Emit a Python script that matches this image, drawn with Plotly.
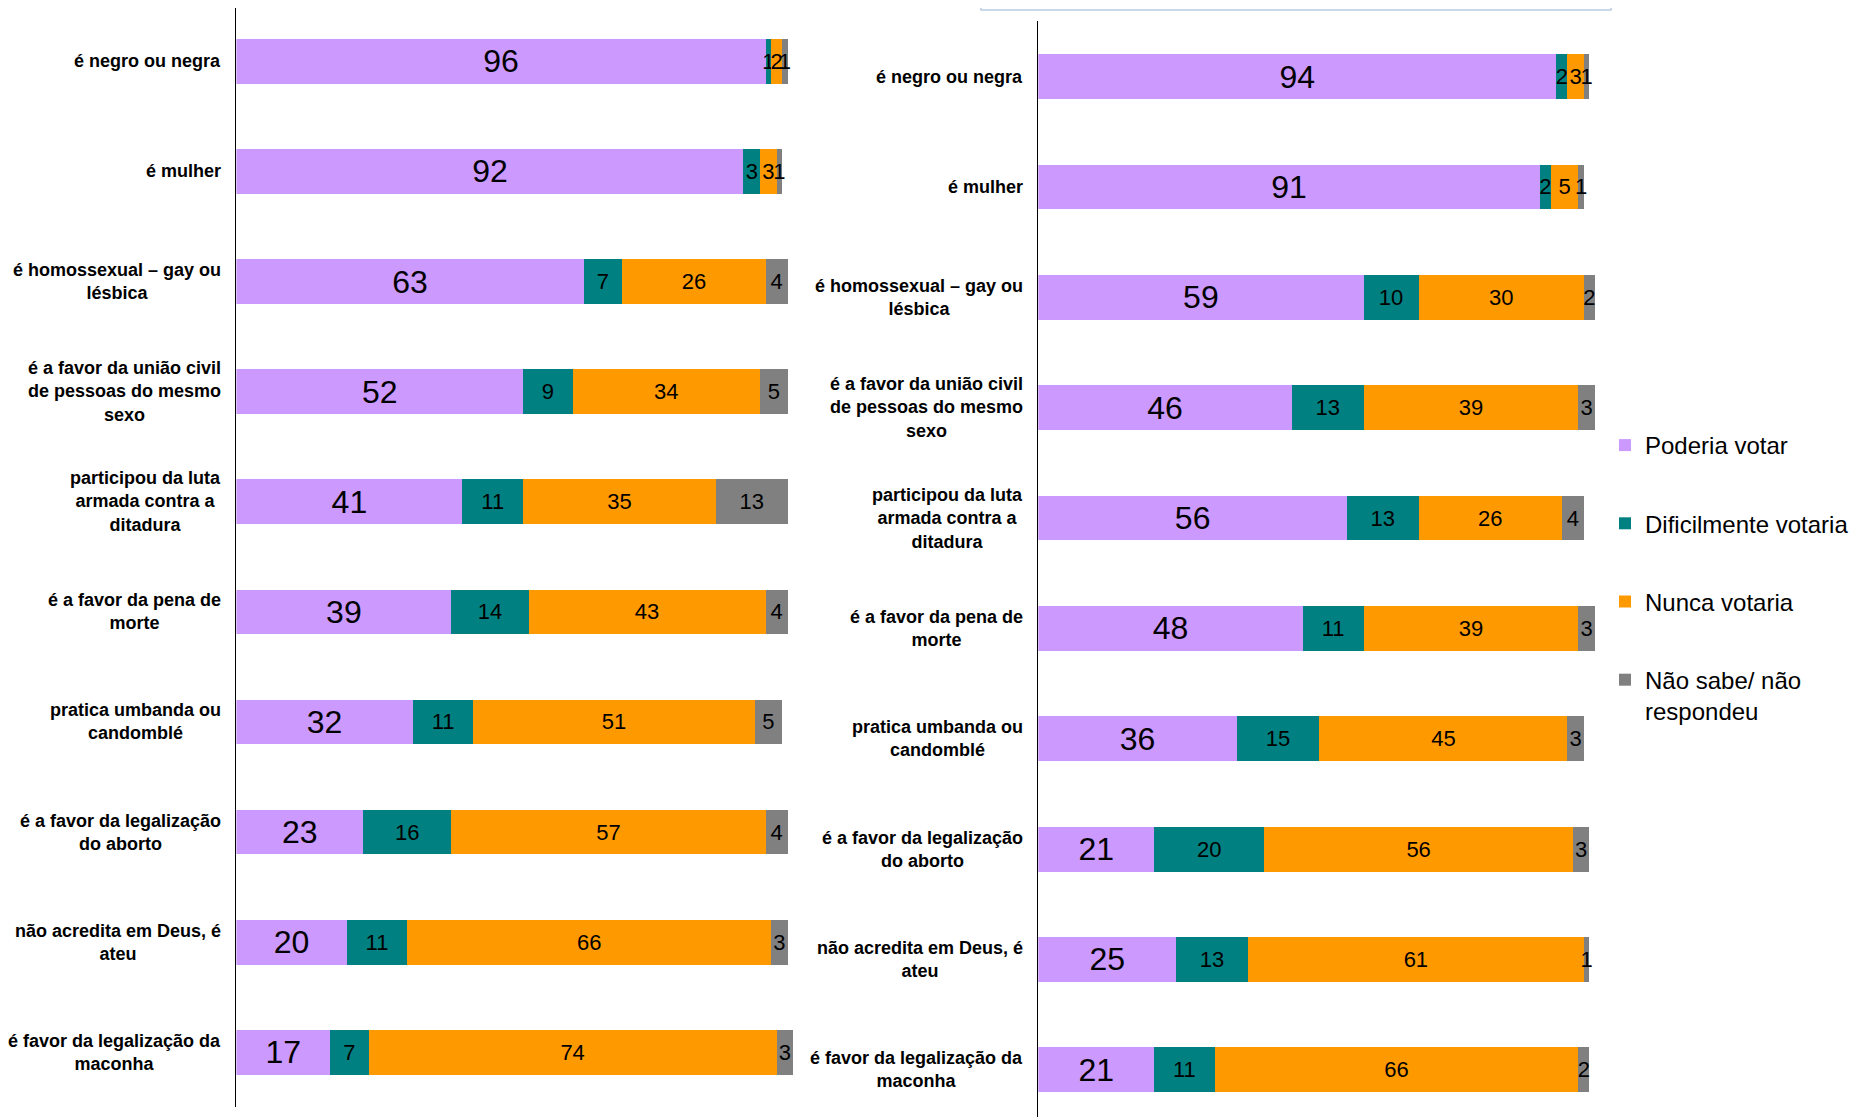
import plotly.graph_objects as go

# rows, top to bottom
labels = [
    "é negro ou negra",
    "é mulher",
    "é homossexual – gay ou<br>lésbica",
    "é a favor da união civil<br>de pessoas do mesmo<br>sexo",
    "participou da luta<br>armada contra a<br>ditadura",
    "é a favor da pena de<br>morte",
    "pratica umbanda ou<br>candomblé",
    "é a favor da legalização<br>do aborto",
    "não acredita em Deus, é<br>ateu",
    "é favor da legalização da<br>maconha",
]

series_names = ["Poderia votar", "Dificilmente votaria", "Nunca votaria", "Não sabe/ não<br>respondeu"]

left_poderia = [96, 92, 63, 52, 41, 39, 32, 23, 20, 17]
left_dificil = [1, 3, 7, 9, 11, 14, 11, 16, 11, 7]
left_nunca = [2, 3, 26, 34, 35, 43, 51, 57, 66, 74]
left_nao_sabe = [1, 1, 4, 5, 13, 4, 5, 4, 3, 3]

right_poderia = [94, 91, 59, 46, 56, 48, 36, 21, 25, 21]
right_dificil = [2, 2, 10, 13, 13, 11, 15, 20, 13, 11]
right_nunca = [3, 5, 30, 39, 26, 39, 45, 56, 61, 66]
right_nao_sabe = [1, 1, 2, 3, 4, 3, 3, 3, 1, 2]

COLORS = ["#CC99FF", "#008080", "#FF9900", "#808080"]
FONT = "Liberation Sans, Arial, sans-serif"
W, H = 1863, 1117
OFF = 8  # page body margin, so positions below are in screen pixels


def _px_x(px: float) -> float:
    return (px - OFF) / W


def _px_y(px: float) -> float:
    return min(1.0, max(0.0, 1 - (px - OFF) / H))


fig = go.Figure()

panels = [
    ("x", "y", [left_poderia, left_dificil, left_nunca, left_nao_sabe], True),
    ("x2", "y2", [right_poderia, right_dificil, right_nunca, right_nao_sabe], False),
]

for xa, ya, series, show_leg in panels:
    for i, (name, vals) in enumerate(zip(series_names, series)):
        fig.add_trace(
            go.Bar(
                x=vals,
                y=labels,
                orientation="h",
                name=name,
                legendgroup=name,
                showlegend=show_leg,
                marker=dict(color=COLORS[i], line=dict(width=0)),
                text=[str(v) for v in vals],
                textposition="inside",
                insidetextanchor="middle",
                textangle=0,
                constraintext="none",
                cliponaxis=False,
                textfont=dict(family=FONT, size=32 if i == 0 else 22, color="black"),
                xaxis=xa,
                yaxis=ya,
                hoverinfo="skip",
            )
        )

# category labels, right-aligned blocks with centred lines
for xa, ya in (("x", "y"), ("x2", "y2")):
    for lab in labels:
        fig.add_annotation(
            x=0,
            xref=f"{xa} domain",
            y=lab,
            yref=ya,
            text=f"<b>{lab}</b>",
            showarrow=False,
            xanchor="right",
            yanchor="middle",
            align="center",
            xshift=-13,
            font=dict(family=FONT, size=18, color="black"),
        )

# cut-off title boxes at the top
fig.add_shape(
    type="rect", xref="paper", yref="paper",
    x0=(-2 - OFF) / W, x1=_px_x(486), y0=1 - (6 - OFF) / H, y1=1.05,
    line=dict(color="#B8CCE4", width=1.5), fillcolor="white", layer="below",
)
fig.add_shape(
    type="rect", xref="paper", yref="paper",
    x0=_px_x(981), x1=_px_x(1611), y0=_px_y(10), y1=1.05,
    line=dict(color="#B8CCE4", width=1.5), fillcolor="white", layer="below",
)

cat_order = list(reversed(labels))
yaxis_common = dict(
    type="category",
    categoryorder="array",
    categoryarray=cat_order,
    showticklabels=False,
    showgrid=False,
    zeroline=False,
    showline=True,
    linecolor="black",
    linewidth=1.2,
    ticks="",
    fixedrange=True,
)
xaxis_common = dict(range=[0, 110], visible=False, fixedrange=True)

fig.update_layout(
    width=W,
    height=H,
    margin=dict(l=0, r=0, t=0, b=0),
    paper_bgcolor="white",
    plot_bgcolor="rgba(0,0,0,0)",
    barmode="stack",
    bargap=0.594,
    xaxis=dict(domain=[_px_x(236.4), _px_x(236.4 + 606.3)], anchor="y", **xaxis_common),
    xaxis2=dict(domain=[_px_x(1038.3), _px_x(1038.3 + 606.3)], anchor="y2", **xaxis_common),
    yaxis=dict(domain=[_px_y(1107.4), 1.0], range=[-0.5, 9.484], anchor="x", **yaxis_common),
    yaxis2=dict(domain=[0.0, _px_y(21.45)], range=[-0.5, 9.5], anchor="x2", **yaxis_common),
    legend=dict(
        x=_px_x(1605),
        y=_px_y(423),
        xanchor="left",
        yanchor="top",
        traceorder="grouped",
        tracegroupgap=44,
        valign="top",
        font=dict(family=FONT, size=24, color="black"),
        bgcolor="rgba(0,0,0,0)",
    ),
    showlegend=True,
)

fig.write_html("out.html")
